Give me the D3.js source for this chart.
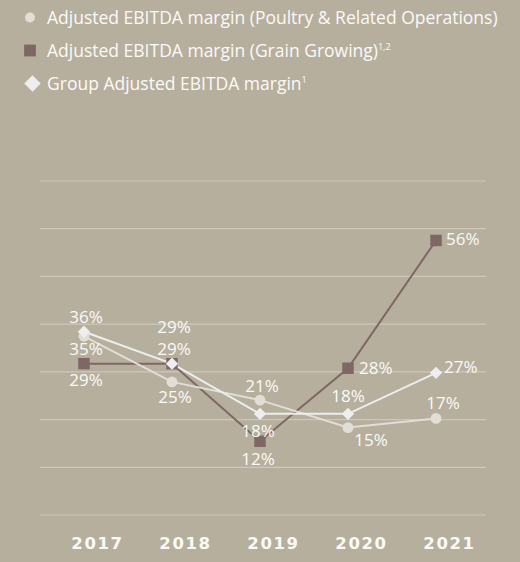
<!DOCTYPE html>
<html>
<head>
<meta charset="utf-8">
<script src="https://cdn.jsdelivr.net/npm/d3@7"></script>
<style>
  html, body { margin: 0; padding: 0; background: #b6af9e; }
  svg { display: block; }
</style>
</head>
<body>
<svg id="chart" width="520" height="562"></svg>
<script>
// Financial years shown on the x axis
const years = ["2017", "2018", "2019", "2020", "2021"];

// Adjusted EBITDA margins, in percent
const poultryMargin = [35, 25, 21, 15, 17];
const grainMargin   = [29, 29, 12, 28, 56];
const groupMargin   = [36, 29, 18, 18, 27];

// Legend entries
const legendLabels = [
  { text: "Adjusted EBITDA margin (Poultry & Related Operations)", sup: "" },
  { text: "Adjusted EBITDA margin (Grain Growing)", sup: "1,2" },
  { text: "Group Adjusted EBITDA margin", sup: "1" }
];

// Label placement relative to each marker: [dx, dy, anchor]
const poultryLabelPos = [[2, 19, "middle"], [3, 21, "middle"], [2, -8, "middle"], [23, 18, "middle"], [7, -9, "middle"]];
const grainLabelPos   = [[2, 22, "middle"], [2, -31, "middle"], [-2, 24, "middle"], [11, 6, "start"], [10, 5, "start"]];
const groupLabelPos   = [[2, -9, "middle"], [2, -9, "middle"], [-2, 23, "middle"], [0, -12, "middle"], [8, 0, "start"]];

const svg = d3.select("#chart");
const W = 520, H = 562;

const bg = "#b6af9e";
const gridColor = "#cec8ba";
const brown = "#7e6764";
const poultryColor = "#e2ded6";
const groupColor = "#eceeef";
const textColor = "#fbfaf7";
const textFont = "'Open Sans', sans-serif";

svg.append("rect").attr("width", W).attr("height", H).attr("fill", bg);

// Scales
const x = d3.scalePoint().domain(years).range([84, 436]);
const y = d3.scaleLinear().domain([0, 60]).range([496, 222.2]);

// Horizontal guide lines
const gridIdx = d3.range(8);
const gridY = d3.scaleLinear().domain([0, 7]).range([515, 181]);
svg.append("g").selectAll("line")
  .data(gridIdx).join("line")
  .attr("x1", 40).attr("x2", 486)
  .attr("y1", d => gridY(d)).attr("y2", d => gridY(d))
  .attr("stroke", gridColor).attr("stroke-width", 1.2);

// Year labels along the bottom
const xAxis = d3.axisBottom(x).tickSize(0).tickPadding(0);
const axisG = svg.append("g").attr("transform", "translate(13, 549)").call(xAxis);
axisG.select(".domain").remove();
axisG.selectAll("text")
  .attr("fill", textColor)
  .attr("dy", 0)
  .style("font-family", "'DejaVu Sans', sans-serif")
  .style("font-weight", "bold")
  .style("font-size", "16.5px")
  .style("letter-spacing", "1.6px");

const series = [
  { key: "grain", values: grainMargin, color: brown, shape: "square", pos: grainLabelPos },
  { key: "poultry", values: poultryMargin, color: poultryColor, shape: "circle", pos: poultryLabelPos },
  { key: "group", values: groupMargin, color: groupColor, shape: "diamond", pos: groupLabelPos }
];

const line = d3.line().x(d => x(d.year)).y(d => y(d.value));

const shapeMap = {
  square: d3.symbolSquare,
  circle: d3.symbolCircle,
  diamond: d3.symbolSquare
};

function markerPath(shape, scale) {
  const size = { square: 132, circle: 92, diamond: 76 }[shape] * (scale || 1);
  return d3.symbol().type(shapeMap[shape]).size(size)();
}

// Lines
series.forEach(s => {
  const pts = s.values.map((v, i) => ({ year: years[i], value: v }));
  svg.append("path")
    .datum(pts)
    .attr("fill", "none")
    .attr("stroke", s.color)
    .attr("stroke-width", 2)
    .attr("d", line);
});

// Markers
series.forEach(s => {
  const pts = s.values.map((v, i) => ({ year: years[i], value: v }));
  svg.append("g").selectAll("path")
    .data(pts).join("path")
    .attr("d", markerPath(s.shape))
    .attr("fill", s.color)
    .attr("transform", d => `translate(${x(d.year)},${y(d.value)})` + (s.shape === "diamond" ? " rotate(45)" : ""));
});

// Value labels
series.forEach(s => {
  const pts = s.values.map((v, i) => ({ year: years[i], value: v, pos: s.pos[i] }));
  svg.append("g").selectAll("text")
    .data(pts).join("text")
    .attr("x", d => x(d.year) + d.pos[0])
    .attr("y", d => y(d.value) + d.pos[1])
    .attr("text-anchor", d => d.pos[2])
    .attr("fill", textColor)
    .style("font-family", textFont)
    .style("font-size", "17px")
    .text(d => d.value + "%");
});

// Legend
const legend = svg.append("g");
const legendShapes = ["circle", "square", "diamond"];
const legendColors = [poultryColor, brown, groupColor];
legendLabels.forEach((l, i) => {
  const cy = 17.5 + i * 33;
  const cx = legendShapes[i] === "diamond" ? 32.5 : 30;
  const sc = legendShapes[i] === "diamond" ? 1.8 : (legendShapes[i] === "circle" ? 0.85 : 1.05);
  legend.append("path")
    .attr("d", markerPath(legendShapes[i], sc))
    .attr("fill", legendColors[i])
    .attr("transform", `translate(${cx},${cy})` + (legendShapes[i] === "diamond" ? " rotate(45)" : ""));
  const t = legend.append("text")
    .attr("x", 47)
    .attr("y", cy + 6.5)
    .attr("fill", textColor)
    .style("font-family", textFont)
    .style("font-size", "17.5px");
  t.append("tspan").text(l.text);
  if (l.sup) {
    t.append("tspan")
      .attr("dy", -7)
      .style("font-size", "9px")
      .text(l.sup);
  }
});
</script>
</body>
</html>
